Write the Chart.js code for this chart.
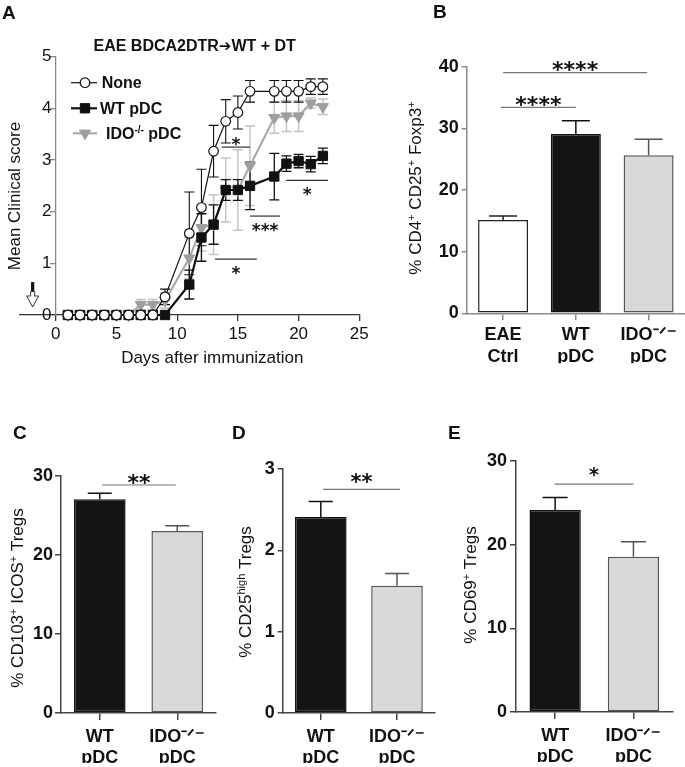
<!DOCTYPE html>
<html><head><meta charset="utf-8">
<script src="https://cdn.jsdelivr.net/npm/chart.js@4/dist/chart.umd.min.js"></script>
<style>
html,body{margin:0;padding:0;background:#fff;}
#wrap{position:relative;width:685px;height:767px;overflow:hidden;background:#fff;}
canvas{position:absolute;left:0;top:0;}
</style></head><body>
<div id="wrap">
<canvas id="cA" width="685" height="767"></canvas>
<canvas id="cB" width="685" height="767"></canvas>
<canvas id="cC" width="685" height="767"></canvas>
<canvas id="cD" width="685" height="767"></canvas>
<canvas id="cE" width="685" height="767"></canvas>
</div>
<script>
// ---------------- DATA ----------------
// Panel A: mean clinical score (mean, SEM) per day
const daysA    = [1,2,3,4,5,6,7,8,9,11,12,13,14,15,16,18,19,20,21,22];
const noneMean = [0,0,0,0,0,0,0,0,0.35,1.58,2.08,3.17,3.75,3.92,4.33,4.33,4.33,4.33,4.42,4.42];
const noneSem  = [0,0,0,0,0,0,0,0,0.15,0.80,0.74,0.50,0.42,0.32,0.21,0.21,0.21,0.21,0.15,0.15];
const wtMean   = [0,0,0,0,0,0,0,0,0,0.59,1.50,1.75,2.42,2.42,2.50,2.68,2.93,2.98,2.92,3.08];
const wtSem    = [0,0,0,0,0,0,0,0,0,0.28,0.46,0.38,0.20,0.20,0.46,0.45,0.15,0.13,0.15,0.15];
const idoMean  = [0,0,0,0,0,0,0.20,0.20,0.28,1.10,1.69,1.75,2.42,2.42,2.89,3.82,3.85,3.85,4.10,4.03];
const idoSem   = [0,0,0,0,0,0,0.10,0.10,0.15,0.40,0.45,0.58,0.62,0.78,0.77,0.30,0.30,0.30,0.10,0.15];
const seriesA  = ['None','WT pDC','IDO^{-/-} pDC'];
const xTicksA  = [0,5,10,15,20,25];
const titleA   = ['EAE BDCA2DTR','\u2794','WT + DT'];
const xTitleA  = 'Days after immunization';
const yTitleA  = 'Mean Clinical score';
// significance marks A: [x1, x2, yLine, label, yLabel]
const sigA = [[13.67,16.0,3.25,'*',3.37],[18.97,22.43,2.605,'*',2.42],[16.0,18.48,1.915,'***',1.71],[13.12,16.56,1.083,'*',0.88]];

// Panel B
const catsB = [['EAE','Ctrl'],['WT','pDC'],['IDO\u207B\u141F\u207B','pDC']];
const valsB = [15.13, 29.08, 25.63];
const semsB = [0.65, 2.16, 2.60];
const yTitleB = '% CD4^{+} CD25^{+} Foxp3^{+}';
const sigB = [[0.0,1.98,39.03,'****',40.3],[-0.03,1.0,33.4,'****',34.7]];

// Panels C, D, E
const catsCDE = [['WT','pDC'],['IDO\u207B\u141F\u207B','pDC']];
const valsC = [27.05, 23.04]; const semsC = [0.76, 0.67];
const valsD = [2.41, 1.565];  const semsD = [0.19, 0.15];
const valsE = [24.13, 18.55]; const semsE = [1.52, 1.80];
const yTitleC = '% CD103^{+} ICOS^{+} Tregs';
const yTitleD = '% CD25^{high} Tregs';
const yTitleE = '% CD69^{+} Tregs';
const sigC = [[0.03,0.98,28.86,'**',29.8]];
const sigD = [[0.03,1.04,2.75,'**',2.90]];
const sigE = [[-0.01,1.0,27.24,'*',28.9]];

// ---------------- HELPERS ----------------
const FONT = "'Liberation Sans', Arial, Helvetica, sans-serif";
const STARFONT = "'DejaVu Sans', sans-serif";
Chart.defaults.font.family = FONT;
Chart.defaults.color = '#111';

function parseRich(s){const out=[];const re=/\^\{([^}]*)\}/g;let last=0,m;
  while((m=re.exec(s))){if(m.index>last)out.push({t:s.slice(last,m.index),sup:false});out.push({t:m[1],sup:true});last=re.lastIndex;}
  if(last<s.length)out.push({t:s.slice(last),sup:false});return out;}
function drawRich(ctx,str,x,y,o){
  const size=o.size||17, bold=o.bold?'bold ':'', supSize=Math.round(size*0.62);
  const segs=parseRich(str);
  ctx.save(); ctx.translate(x,y); if(o.rotate) ctx.rotate(-Math.PI/2);
  let total=0; const ws=segs.map(s=>{ctx.font=bold+(s.sup?supSize:size)+'px '+FONT;const w=ctx.measureText(s.t).width;total+=w;return w;});
  let cx = o.align==='left'?0:-total/2;
  ctx.fillStyle=o.color||'#111'; ctx.textBaseline='alphabetic'; ctx.textAlign='left';
  const base=size*0.358;
  segs.forEach((s,i)=>{ctx.font=bold+(s.sup?supSize:size)+'px '+FONT;ctx.fillText(s.t,cx,base-(s.sup?size*0.36:0));cx+=ws[i];});
  ctx.restore();
}
function drawStars(ctx,txt,x,y,size){
  ctx.save(); ctx.font='bold '+size+'px '+STARFONT; ctx.fillStyle='#111';
  ctx.textAlign='center'; ctx.textBaseline='alphabetic';
  ctx.fillText(txt,x,y+size*0.56); ctx.restore();
}
function sigPlugin(list,starSize,color){return {id:'sig',afterDraw(chart){
  const ctx=chart.ctx, xs=chart.scales.x, ys=chart.scales.y;
  list.forEach(([x1,x2,yl,lab,ylab])=>{
    const py=ys.getPixelForValue(yl);
    ctx.save();ctx.strokeStyle=color;ctx.lineWidth=1.2;ctx.beginPath();
    ctx.moveTo(xs.getPixelForValue(x1),py);ctx.lineTo(xs.getPixelForValue(x2),py);ctx.stroke();ctx.restore();
    drawStars(ctx,lab,xs.getPixelForValue((x1+x2)/2),ys.getPixelForValue(ylab),starSize);
  });}};}
function textPlugin(fn){return {id:'txt',afterDraw(chart){fn(chart.ctx,chart);}};}
function panelLabel(ctx,t,x,y){ctx.save();ctx.font='bold 19px '+FONT;ctx.fillStyle='#111';ctx.textAlign='left';ctx.textBaseline='alphabetic';ctx.fillText(t,x,y+19*0.358);ctx.restore();}

const YW=40, XH=50;

// ---------------- PANEL A ----------------
const errSpecA=[{mean:noneMean,sem:noneSem,color:'#111',w:1.1},{mean:wtMean,sem:wtSem,color:'#111',w:1.3},{mean:idoMean,sem:idoSem,color:'#c4c4c4',w:1.5}];
const errA={id:'errA',beforeDatasetsDraw(chart){
  const ctx=chart.ctx,xs=chart.scales.x,ys=chart.scales.y;
  errSpecA.slice().reverse().forEach(sp=>{
    ctx.save();ctx.strokeStyle=sp.color;ctx.lineWidth=sp.w;
    daysA.forEach((d,i)=>{ if(!sp.sem[i]) return;
      const x=xs.getPixelForValue(d), y1=ys.getPixelForValue(sp.mean[i]+sp.sem[i]), y2=ys.getPixelForValue(sp.mean[i]-sp.sem[i]);
      ctx.beginPath();ctx.moveTo(x,y1);ctx.lineTo(x,y2);ctx.moveTo(x-5,y1);ctx.lineTo(x+5,y1);ctx.moveTo(x-5,y2);ctx.lineTo(x+5,y2);ctx.stroke();});
    ctx.restore();});
}};
const styleA=[
  {pointStyle:'circle',radius:4.8,bg:'#fff',bc:'#111',pbw:1.2,lc:'#111',lw:1.2,rot:0},
  {pointStyle:'rect',radius:6.6,bg:'#111',bc:'#111',pbw:1,lc:'#111',lw:2.2,rot:0},
  {pointStyle:'triangle',radius:6.4,bg:'#9e9e9e',bc:'#9e9e9e',pbw:1,lc:'#ababab',lw:2.2,rot:180}
];
const meansA=[noneMean,wtMean,idoMean];
new Chart(document.getElementById('cA'),{
  type:'line',
  data:{datasets:meansA.map((m,k)=>({label:seriesA[k],data:daysA.map((d,i)=>({x:d,y:m[i]})),
    borderColor:styleA[k].lc,borderWidth:styleA[k].lw,pointStyle:styleA[k].pointStyle,pointRadius:styleA[k].radius,
    pointRotation:styleA[k].rot,pointBackgroundColor:styleA[k].bg,pointBorderColor:styleA[k].bc,pointBorderWidth:styleA[k].pbw,
    tension:0,fill:false,clip:false}))},
  options:{responsive:false,animation:false,devicePixelRatio:1,
    layout:{padding:{left:19.3,top:56.7,right:685-359.3,bottom:767-315-XH}},
    plugins:{legend:{display:false},tooltip:{enabled:false}},
    scales:{
      x:{type:'linear',min:-3,max:25,afterFit:s=>{s.height=XH;},
         afterBuildTicks:s=>{s.ticks=xTicksA.map(v=>({value:v}));},
         ticks:{stepSize:5,font:{size:17},padding:3,color:'#111',maxRotation:0},
         grid:{display:true,drawOnChartArea:false,tickLength:6,color:'#333',lineWidth:1.3},
         border:{display:true,color:'#333',width:1.3}},
      y:{type:'linear',min:0,max:5,position:{x:0},
         ticks:{stepSize:1,font:{size:17},padding:1,color:'#111',callback:v=>v+'\u2005'},
         grid:{display:true,drawOnChartArea:false,tickLength:5,color:'#888',lineWidth:1.3},
         border:{display:true,color:'#888',width:1.3}}
    }},
  plugins:[errA,sigPlugin(sigA,17,'#333'),textPlugin((ctx,chart)=>{
    panelLabel(ctx,'A',2,12);
    // title with heavy arrow
    ctx.save();ctx.fillStyle='#111';ctx.textBaseline='alphabetic';ctx.textAlign='left';
    const f1='bold 16px '+FONT, f2='bold 15px '+STARFONT;
    ctx.font=f1;const w1=ctx.measureText(titleA[0]).width, w3=ctx.measureText(titleA[2]).width;
    ctx.font=f2;const w2=ctx.measureText(titleA[1]).width;
    let tx=194.7-(w1+w2+w3)/2; const by=45+16*0.358;
    ctx.font=f1;ctx.fillText(titleA[0],tx,by);tx+=w1;
    ctx.font=f2;ctx.fillText(titleA[1],tx,by);tx+=w2;
    ctx.font=f1;ctx.fillText(titleA[2],tx,by);ctx.restore();
    drawRich(ctx,yTitleA,13.5,196,{size:17,rotate:true});
    drawRich(ctx,xTitleA,212.3,357,{size:17});
    // legend
    const rows=[{y:82.7,x1:71,x2:97,tx:101.7},{y:108.3,x1:71,x2:97,tx:100},{y:133.3,x1:73,x2:97,tx:106}];
    rows.forEach((r,k)=>{const st=styleA[k];
      ctx.save();ctx.strokeStyle=st.lc;ctx.lineWidth=st.lw;ctx.beginPath();ctx.moveTo(r.x1,r.y);ctx.lineTo(r.x2,r.y);ctx.stroke();
      ctx.fillStyle=st.bg;ctx.strokeStyle=st.bc;ctx.lineWidth=st.pbw;
      Chart.helpers.drawPoint(ctx,{pointStyle:st.pointStyle,radius:st.radius,rotation:st.rot,borderWidth:st.pbw},85,r.y);
      ctx.restore();
      drawRich(ctx,seriesA[k],r.tx,r.y,{size:16,bold:true,align:'left'});
    });
    // DT injection arrow
    const ax=chart.scales.x.getPixelForValue(-1.9);
    ctx.save();ctx.fillStyle='#111';ctx.fillRect(ax-1.6,282,3.2,9.5);
    ctx.fillStyle='#fff';ctx.strokeStyle='#333';ctx.lineWidth=1;ctx.beginPath();
    ctx.moveTo(ax-2,291.5);ctx.lineTo(ax+2,291.5);ctx.lineTo(ax+2,296);ctx.lineTo(ax+6,296);ctx.lineTo(ax,307);ctx.lineTo(ax-6,296);ctx.lineTo(ax-2,296);ctx.closePath();ctx.fill();ctx.stroke();ctx.restore();
  })]
});

// ---------------- BAR PANELS ----------------
function errBars(sems,colors,capW){return {id:'errBars',beforeDatasetsDraw(chart){
  const ctx=chart.ctx, ys=chart.scales.y, meta=chart.getDatasetMeta(0), vals=chart.data.datasets[0].data;
  meta.data.forEach((el,i)=>{const x=el.x, y1=ys.getPixelForValue(vals[i]), y2=ys.getPixelForValue(vals[i]+sems[i]);
    ctx.save();ctx.strokeStyle=colors[i];ctx.lineWidth=1.5;ctx.beginPath();ctx.moveTo(x,y1);ctx.lineTo(x,y2);
    ctx.moveTo(x-capW/2,y2);ctx.lineTo(x+capW/2,y2);ctx.stroke();ctx.restore();});
}};}
function barChart(id,c){
  return new Chart(document.getElementById(id),{
    type:'bar',
    data:{labels:c.cats,datasets:[{data:c.vals,backgroundColor:c.fills,borderColor:c.borders,borderWidth:1.5,borderSkipped:false,
      barPercentage:1,categoryPercentage:c.catPct}]},
    options:{responsive:false,animation:false,devicePixelRatio:1,
      layout:{padding:{left:c.area.l-YW,top:c.area.t,right:685-c.area.r,bottom:767-c.area.b-XH}},
      plugins:{legend:{display:false},tooltip:{enabled:false}},
      scales:{
        x:{type:'category',offset:true,afterFit:s=>{s.height=XH;},
           grid:{display:true,drawOnChartArea:false,offset:false,tickLength:7,color:c.axis,lineWidth:1.5},
           border:{display:true,color:c.axis,width:1.5},
           ticks:{color:'#111',font:{size:18,weight:'bold',lineHeight:1.2},padding:c.padX,maxRotation:0,autoSkip:false}},
        y:{min:0,max:c.yMax,afterFit:s=>{s.width=YW;},
           ticks:{stepSize:c.yStep,color:'#111',font:{size:18,weight:'bold'},padding:c.padY},
           grid:{display:true,drawOnChartArea:false,tickLength:c.tlY,color:c.axis,lineWidth:1.5},
           border:{display:true,color:c.axis,width:1.5}}
      }},
    plugins:[errBars(c.sems,c.errCol,c.capW),sigPlugin(c.sig,c.starSize,'#777'),textPlugin(ctx=>{
      panelLabel(ctx,c.label,c.lx,c.ly);
      drawRich(ctx,c.yTitle,c.tx,c.ty,{size:17,rotate:true});
    })]
  });
}
barChart('cB',{cats:catsB,vals:valsB,sems:semsB,fills:['#ffffff','#141414','#d9d9d9'],borders:['#222','#111','#555'],errCol:['#222','#111','#555'],
  catPct:0.687,area:{l:466.7,t:66.7,r:685,b:313.3},yMax:40,yStep:10,axis:'#8a8a8a',padX:4,padY:3,tlY:5,capW:28,sig:sigB,starSize:22,
  label:'B',lx:433,ly:11,yTitle:yTitleB,tx:415,ty:188});
barChart('cC',{cats:catsCDE,vals:valsC,sems:semsC,fills:['#141414','#d9d9d9'],borders:['#111','#555'],errCol:['#111','#555'],
  catPct:0.667,area:{l:61,t:476,r:216,b:713},yMax:30,yStep:10,axis:'#444',padX:6,padY:2,tlY:6,capW:24,sig:sigC,starSize:22,
  label:'C',lx:13,ly:432,yTitle:yTitleC,tx:17,ty:598});
barChart('cD',{cats:catsCDE,vals:valsD,sems:semsD,fills:['#141414','#d9d9d9'],borders:['#111','#555'],errCol:['#111','#555'],
  catPct:0.677,area:{l:282.7,t:469,r:435.1,b:713},yMax:3,yStep:1,axis:'#444',padX:6,padY:3,tlY:5,capW:24,sig:sigD,starSize:21,
  label:'D',lx:232,ly:432,yTitle:yTitleD,tx:245,ty:592});
barChart('cE',{cats:catsCDE,vals:valsE,sems:semsE,fills:['#141414','#d9d9d9'],borders:['#111','#555'],errCol:['#111','#555'],
  catPct:0.655,area:{l:516,t:461,r:672.6,b:712},yMax:30,yStep:10,axis:'#444',padX:6,padY:3,tlY:6,capW:25,sig:sigE,starSize:19,
  label:'E',lx:448,ly:432,yTitle:yTitleE,tx:470,ty:585});
</script>
</body></html>
